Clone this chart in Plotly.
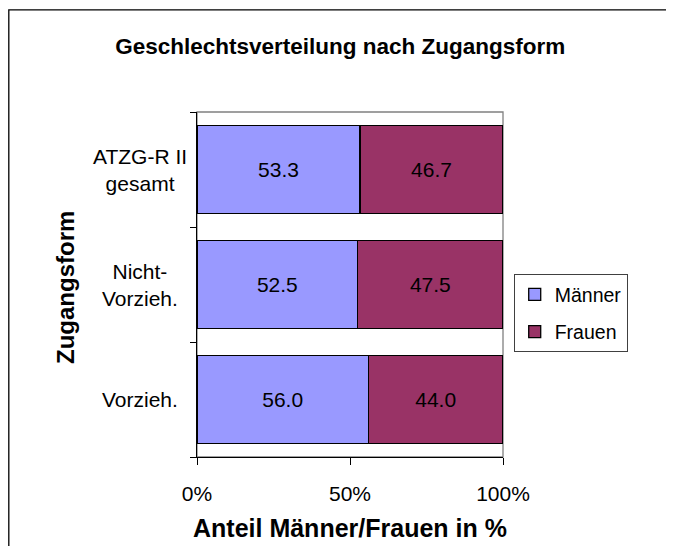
import plotly.graph_objects as go

# categories (bottom to top, as drawn)
categories = ["Vorzieh.", "Nicht-Vorzieh.", "ATZG-R II gesamt"]
tick_labels = ["Vorzieh.", "Nicht-<br>Vorzieh.", "ATZG-R II<br>gesamt"]
maenner = [56.0, 52.5, 53.3]
frauen = [44.0, 47.5, 46.7]
x_ticks = [0, 50, 100]
x_tick_text = ["0%", "50%", "100%"]

FONT = "Liberation Sans, Arial, sans-serif"

fig = go.Figure()

# one trace per series
for name, vals, col, grp in [("Männer", maenner, "#9999FF", "m"),
                             ("Frauen", frauen, "#993366", "f")]:
    fig.add_trace(
        go.Bar(
            y=categories,
            x=vals,
            orientation="h",
            name=name,
            legendgroup=grp,
            marker=dict(color=col, line=dict(color="black", width=1.3)),
            text=["%.1f" % v for v in vals],
            textposition="inside",
            insidetextanchor="middle",
            textfont=dict(size=21, color="black", family=FONT),
            constraintext="none",
            hoverinfo="none",
        )
    )

# outer chart frame (runs off the right and bottom edge)
fig.add_shape(type="rect", xref="paper", yref="paper",
              x0=-0.615, x1=2, y0=-1, y1=1.296,
              line=dict(color="black", width=1.3), layer="below")
# plot area frame (gray top/right)
fig.add_shape(type="rect", xref="paper", yref="paper",
              x0=0, x1=1, y0=0, y1=1,
              line=dict(color="#808080", width=1.3), layer="below")

# centred category labels
for lab, cat in zip(tick_labels, categories):
    fig.add_annotation(x=-0.186, xref="paper", y=cat, yref="y",
                       text=lab, showarrow=False, align="center",
                       xanchor="center", yanchor="middle",
                       font=dict(size=21, color="black", family=FONT))

fig.add_annotation(x=-0.428, xref="paper", y=0.49, yref="paper",
                   text="<b>Zugangsform</b>", textangle=-90, showarrow=False,
                   xanchor="center", yanchor="middle",
                   font=dict(size=24, color="black", family=FONT))
fig.add_annotation(x=0.5, xref="paper", y=-0.206, yref="paper",
                   text="<b>Anteil Männer/Frauen in %</b>", showarrow=False,
                   xanchor="center", yanchor="middle",
                   font=dict(size=25, color="black", family=FONT))

# page body has an 8px margin, so the margins are shifted by that
fig.update_layout(
    width=674, height=546,
    margin=dict(l=189, r=179, t=104, b=97),
    paper_bgcolor="white", plot_bgcolor="white",
    barmode="stack", bargap=0.23,
    font=dict(family=FONT, color="black"),
    title=dict(text="<b>Geschlechtsverteilung nach Zugangsform</b>",
               x=0.493, xanchor="center", y=0.93, yanchor="middle",
               font=dict(size=22.5, color="black", family=FONT)),
    showlegend=True,
    legend=dict(x=1.035, xanchor="left", y=0.53, yanchor="top",
                traceorder="grouped", tracegroupgap=9,
                bordercolor="#404040", borderwidth=1,
                font=dict(size=19.5, color="black", family=FONT)),
    xaxis=dict(range=[0, 100], tickvals=x_ticks, ticktext=x_tick_text,
               showgrid=False, zeroline=False,
               showline=True, linecolor="black", linewidth=1.3,
               ticks="outside", ticklen=7, tickcolor="black",
               ticklabelstandoff=11,
               tickfont=dict(size=21, color="black", family=FONT)),
    yaxis=dict(range=[-0.5, 2.5], showgrid=False, zeroline=False,
               showline=True, linecolor="black", linewidth=1.3,
               ticks="outside", ticklen=6, tickcolor="black",
               tickson="boundaries", showticklabels=False),
)

fig.write_html("out.html")
